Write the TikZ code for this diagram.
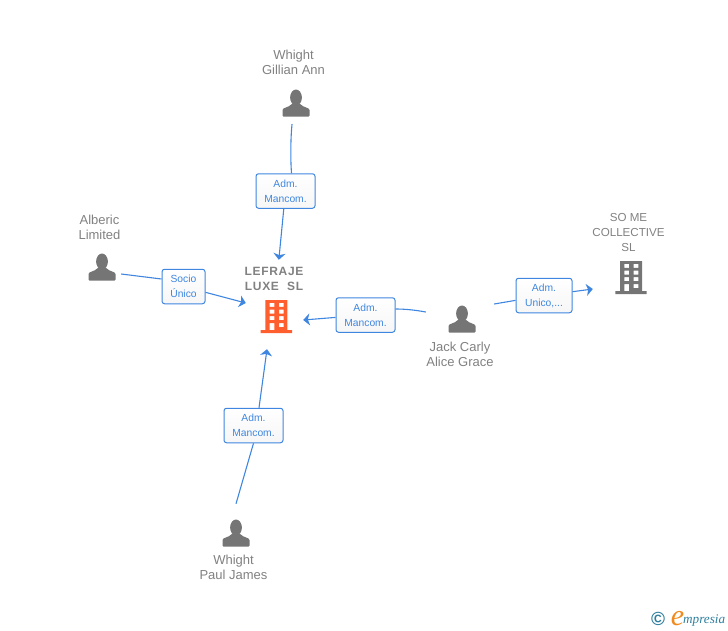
\documentclass[tikz,border=0pt]{standalone}
\usepackage{fontspec}
\setmainfont{Liberation Sans}
\newfontfamily\logofont{Liberation Serif}
\usetikzlibrary{arrows.meta}
\definecolor{azul}{HTML}{3F86E0}
\definecolor{gris}{HTML}{757575}
\definecolor{textogris}{HTML}{818181}
\definecolor{naranja}{HTML}{FF5F2E}
\definecolor{logoazul}{HTML}{2F7F9F}
\definecolor{logonaranja}{HTML}{F08A1E}
\tikzset{
	cargo/.style={draw=azul,line width=1pt,rounded corners=2.5pt,top color=white,bottom color=white!93!gray,text=azul,
		font=\fontsize{10.3}{15}\selectfont,align=center,inner sep=0pt},
	nombre/.style={text=textogris,font=\fontsize{13}{15}\selectfont,align=center,inner sep=0pt},
	enlace/.style={azul,line width=1.1pt},
	hueco/.style={inner sep=0pt,minimum size=42pt},
	persona/.pic={
		\fill[gris] (0,-5.5) ellipse (5.9 and 8);
		\fill[gris,rounded corners=1pt] (-13.5,13.7)--(-13.5,8) .. controls (-13.5,4.5) and (-7,4.5) .. (-4,.5)--(4,.5) .. controls (7,4.5) and (13.5,4.5) .. (13.5,8)--(13.5,13.7)--cycle;
	},
	edificio/.pic={
		\fill[pic actions,even odd rule] (-11,13.5)--(-11,-16.5)--(11,-16.5)--(11,13.5)--(15.7,13.5)--(15.7,16.5)--(-15.7,16.5)--(-15.7,13.5)--cycle
		(-6.7,-13.8) rectangle (-2,-9.8) (2.7,-13.8) rectangle (7.3,-9.8)
		(-6.7,-7.2) rectangle (-2,-3.2) (2.7,-7.2) rectangle (7.3,-3.2)
		(-6.7,-.5) rectangle (-2,3.5) (2.7,-.5) rectangle (7.3,3.5)
		(-6.7,6.5) rectangle (-2,13.5) (2.7,6.5) rectangle (7.3,10.5);
	},
}
\begin{document}
\begin{tikzpicture}[x=1pt,y=-1pt,>={Stealth[length=6.5pt,width=12pt,inset=1.8pt]},line join=round]
	\useasboundingbox (0,0) rectangle (728,630);
	%Personas
	\foreach \t/\x/\y/\nx/\ny/\g in {gillian/296/103/293.5/62.5/{Whight\\Gillian Ann},
		alberic/102/267/99.5/227.5/{Alberic\\Limited},
		jack/462/319/460/354.5/{Jack Carly\\Alice Grace},
		paul/236/533/233.5/567.5/{Whight\\Paul James}}{
		\node[hueco] (\t) at (\x,\y) {};
		\pic at (\t) {persona};
		\node[nombre] (\t txt) at (\nx,\ny) {\g};}
	%Empresas
	\node[inner sep=0pt,minimum width=57pt,minimum height=89pt] (lefraje) at (274.5,304.5) {};
	\pic[fill=naranja] at (276.3,316.7) {edificio};
	\node[nombre,font=\fontsize{12}{15}\selectfont\bfseries\addfontfeatures{LetterSpace=6}] (lefrajetxt) at (274,278.5) {LEFRAJE\\LUXE\ \ SL};
	\node[inner sep=0pt,minimum width=76pt,minimum height=34pt] (some) at (631,277.5) {};
	\pic[fill=gris] at (631,277.7) {edificio};
	\node[nombre,font=\fontsize{11.6}{15}\selectfont] (sometxt) at (628.5,232) {SO ME\\COLLECTIVE\\SL};
	%Cargos
	\foreach \t/\x/\y/\w/\g in {adma/285.5/191/59/{Adm.\\Mancom.},
		socio/183.5/286.5/43/{Socio\\\smash{Único}},
		admb/253.5/425.5/59/{Adm.\\Mancom.},
		admc/365.5/315/59/{Adm.\\Mancom.},
		admd/544/295.5/56/{Adm.\\\smash{Unico,...}}}{
		\node[cargo,minimum width=\w pt,minimum height=34.5pt] (\t) at (\x,\y) {\g};}
	%Enlaces
	\draw[enlace] ([xshift=-4pt]gillian.south) .. controls (290.5,140) and (290.5,160) .. ([xshift=6pt]adma.north);
	\draw[enlace,->] (adma)--(lefraje);
	\draw[enlace] ([shift={(-2pt,-7pt)}]alberic.east)--([yshift=7.5pt]socio.west);
	\draw[enlace,->] (socio)--([yshift=1.5pt]lefraje.west);
	\draw[enlace] ([yshift=8pt]paul.north)--(admb.south);
	\draw[enlace,->] ([xshift=5.5pt]admb.north)--([xshift=-7.5pt]lefraje.south);
	\draw[enlace] ([shift={(-15pt,7pt)}]jack.west) .. controls (415,310) and (405,309) .. ([yshift=6pt]admc.east);
	\draw[enlace,->] (admc)--([yshift=-15.5pt]lefraje.east);
	\draw[enlace] ([shift={(11pt,15pt)}]jack.east)--(admd);
	\draw[enlace,->] (admd)--([yshift=-11.5pt]some.west);
	%Logo
	\node[inner sep=0pt,text=logoazul,font=\fontsize{19}{19}\selectfont\bfseries] (copy) at (658,619) {\textcopyright};
	\node[inner sep=0pt,anchor=base west,text=logoazul,font=\logofont\itshape\fontsize{13.2}{15}\selectfont] (marca) at (683,623)
		{mpresia};
	\node[inner sep=0pt,anchor=base east,text=logonaranja,font=\logofont\itshape\fontsize{30}{30}\selectfont] (letra) at (684.5,625) {e};
\end{tikzpicture}
\end{document}
